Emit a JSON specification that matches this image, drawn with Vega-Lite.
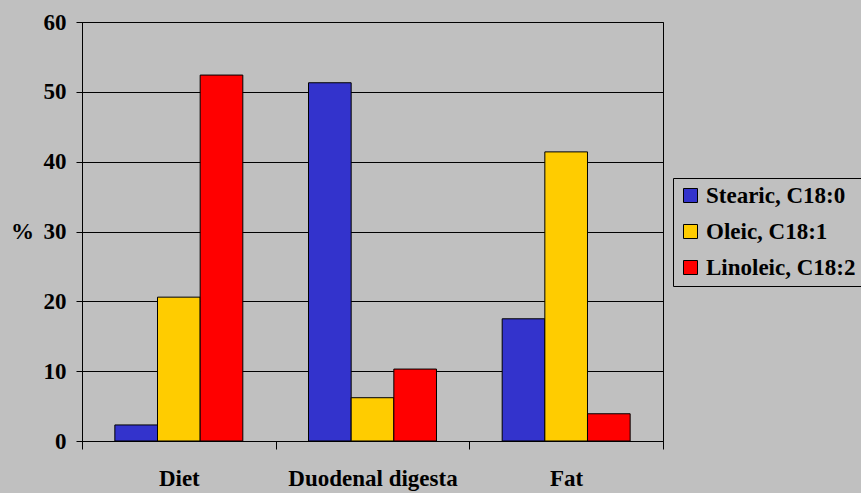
{
  "$schema": "https://vega.github.io/schema/vega-lite/v6.json",
  "width": 581,
  "height": 419,
  "autosize": {"type": "none"},
  "padding": {"left": 82, "top": 22, "right": 198, "bottom": 52},
  "background": "#C0C0C0",
  "config": {
    "view": {"stroke": "#000000", "strokeWidth": 1},
    "font": "Liberation Serif"
  },
  "data": {
    "values": [
      {"category": "Diet", "acid": "Stearic, C18:0", "value": 2.3},
      {"category": "Diet", "acid": "Oleic, C18:1", "value": 20.6},
      {"category": "Diet", "acid": "Linoleic, C18:2", "value": 52.4},
      {"category": "Duodenal digesta", "acid": "Stearic, C18:0", "value": 51.3},
      {"category": "Duodenal digesta", "acid": "Oleic, C18:1", "value": 6.2},
      {"category": "Duodenal digesta", "acid": "Linoleic, C18:2", "value": 10.3},
      {"category": "Fat", "acid": "Stearic, C18:0", "value": 17.5},
      {"category": "Fat", "acid": "Oleic, C18:1", "value": 41.4},
      {"category": "Fat", "acid": "Linoleic, C18:2", "value": 3.9}
    ]
  },
  "mark": {"type": "bar", "stroke": "#000000", "strokeWidth": 1},
  "encoding": {
    "x": {
      "field": "category",
      "type": "nominal",
      "sort": ["Diet", "Duodenal digesta", "Fat"],
      "scale": {"paddingInner": 0, "paddingOuter": 0},
      "axis": {
        "title": null,
        "labelAngle": 0,
        "labelFont": "Liberation Serif",
        "labelFontWeight": "bold",
        "labelFontSize": 23,
        "labelColor": "#000000",
        "labelPadding": 18,
        "labelLimit": 300,
        "tickBand": "extent",
        "tickSize": 8,
        "tickColor": "#000000",
        "domainColor": "#000000",
        "grid": false
      }
    },
    "xOffset": {
      "field": "acid",
      "type": "nominal",
      "sort": ["Stearic, C18:0", "Oleic, C18:1", "Linoleic, C18:2"],
      "scale": {"paddingInner": 0, "paddingOuter": 0.77}
    },
    "y": {
      "field": "value",
      "type": "quantitative",
      "scale": {"domain": [0, 60], "nice": false},
      "axis": {
        "values": [0, 10, 20, 30, 40, 50, 60],
        "title": "%",
        "titleAngle": 0,
        "titleFont": "Liberation Serif",
        "titleFontWeight": "bold",
        "titleFontSize": 23,
        "titleColor": "#000000",
        "titleAlign": "center",
        "titleBaseline": "middle",
        "titleX": -60,
        "titleY": 209,
        "labelFont": "Liberation Serif",
        "labelFontWeight": "bold",
        "labelFontSize": 23,
        "labelColor": "#000000",
        "labelPadding": 10,
        "tickSize": 6,
        "tickColor": "#000000",
        "domainColor": "#000000",
        "grid": true,
        "gridColor": "#000000",
        "gridOpacity": 1,
        "gridWidth": 1
      }
    },
    "color": {
      "field": "acid",
      "type": "nominal",
      "sort": ["Stearic, C18:0", "Oleic, C18:1", "Linoleic, C18:2"],
      "scale": {
        "domain": ["Stearic, C18:0", "Oleic, C18:1", "Linoleic, C18:2"],
        "range": ["#3333CC", "#FFCC00", "#FF0000"]
      },
      "legend": {
        "title": null,
        "orient": "none",
        "legendX": 591,
        "legendY": 156,
        "strokeColor": "#000000",
        "padding": 6,
        "symbolType": "square",
        "symbolSize": 196,
        "symbolStrokeColor": "#000000",
        "symbolStrokeWidth": 1,
        "labelFont": "Liberation Serif",
        "labelFontWeight": "bold",
        "labelFontSize": 23,
        "labelColor": "#000000",
        "labelOffset": 4,
        "rowPadding": 12,
        "labelLimit": 300
      }
    }
  }
}
